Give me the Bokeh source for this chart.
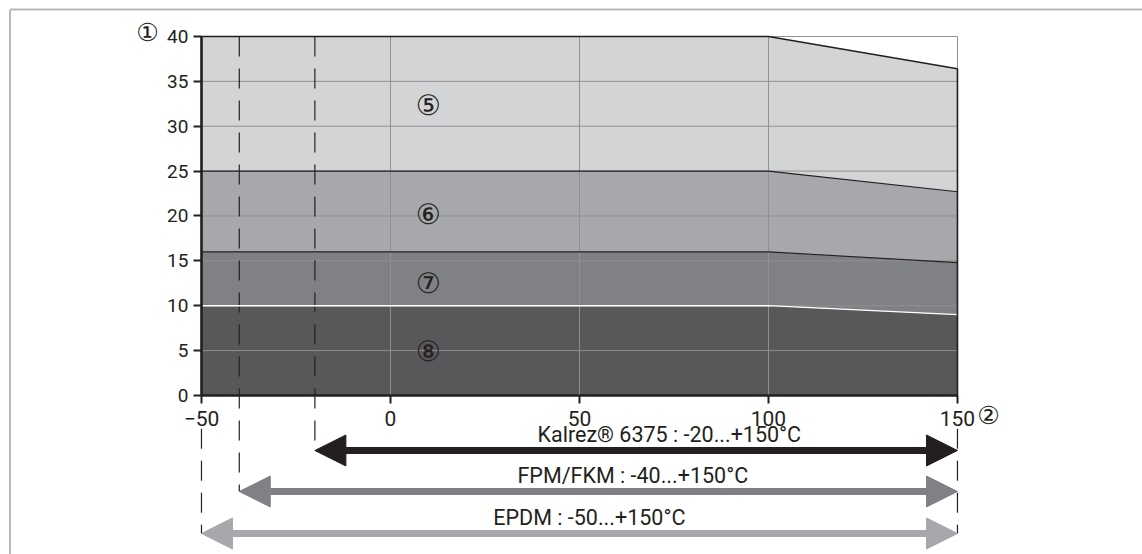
from bokeh.plotting import figure
from bokeh.models import FixedTicker, Arrow, NormalHead, Label
from bokeh.core.properties import value
from bokeh.embed import file_html
from bokeh.resources import INLINE

# ---------------- data ----------------
temp_c = [-50, 100, 150]            # temperature breakpoints (°C)
limit_8 = [10, 10, 9.0]             # upper pressure limit of zone 8
limit_7 = [16, 16, 14.8]            # zone 7
limit_6 = [25, 25, 22.7]            # zone 6
limit_5 = [40, 40, 36.4]            # zone 5
zone_marks = ["⑤", "⑥", "⑦", "⑧"]
x_ticks = [-50, 0, 50, 100, 150]
y_ticks = [0, 5, 10, 15, 20, 25, 30, 35, 40]

materials = ["Kalrez® 6375", "FPM/FKM", "EPDM"]
t_min = [-20, -40, -50]
t_max = [150, 150, 150]

# ---------------- styles ----------------
DARK = "#231f20"
zone_colors = ["#d3d4d6", "#a7a8ab", "#808184", "#58585a"]
arrow_colors = ["#231f20", "#808184", "#a7a8ab"]
GRID = "#909093"
FONT = "Roboto"

W, H = 1142, 554
x_start, x_end = -103.17, 198.95
y_start, y_end = -17.72, 44.01
px_x = W / (x_end - x_start)
px_y = H / (y_end - y_start)

p = figure(width=W, height=H, x_range=(x_start, x_end), y_range=(y_start, y_end),
           output_backend="svg", toolbar_location=None, min_border=0,
           background_fill_color="white", border_fill_color="white")
p.outline_line_color = None
p.xgrid.visible = False
p.ygrid.visible = False

x0, x1 = x_ticks[0], x_ticks[-1]
y0, y1 = y_ticks[0], y_ticks[-1]

# outer frame (top and left edges)
fx, fy = x_start + 9.5 / px_x, y_end - 9.0 / px_y
p.segment(x0=[fx, fx], y0=[fy, fy], x1=[x_end + 10, fx], y1=[fy, y_start - 10],
          line_color="#b8b8b8", line_width=2)

# zones
zero = [0] * len(temp_c)
bands = [(limit_6, limit_5), (limit_7, limit_6), (limit_8, limit_7), (zero, limit_8)]
for (lo, hi), c in zip(bands, zone_colors):
    p.varea(x=temp_c, y1=lo, y2=hi, fill_color=c)

# grid (limited to the chart area)
p.segment(x0=x_ticks, y0=[y0] * len(x_ticks), x1=x_ticks, y1=[y1] * len(x_ticks),
          line_color=GRID, line_width=1)
p.segment(x0=[x0] * len(y_ticks), y0=y_ticks, x1=[x1] * len(y_ticks), y1=y_ticks,
          line_color=GRID, line_width=1)

# dashed limit lines
arrow_y = [-6.13, -10.7, -15.38]
for lo, ay in zip(t_min, arrow_y):
    if lo > x0:
        p.segment(x0=lo, y0=y1, x1=lo, y1=ay, line_color=DARK, line_width=1.2, line_dash="20 12")
for xv in (t_min[2], t_max[2]):
    p.segment(x0=xv, y0=-3.7, x1=xv, y1=arrow_y[2], line_color=DARK, line_width=1.2, line_dash="20 12")

# zone boundaries
for ys, c, w in [(limit_5, DARK, 1.6), (limit_6, DARK, 1.1), (limit_7, DARK, 1.1), (limit_8, "white", 1.3)]:
    p.line(temp_c, ys, line_color=c, line_width=w)
p.segment(x0=temp_c[-1], y0=0, x1=temp_c[-1], y1=limit_5[-1], line_color=DARK, line_width=1.6)

# axes
p.xaxis.fixed_location = 0
p.yaxis.fixed_location = x0
p.xaxis.ticker = FixedTicker(ticks=x_ticks)
p.yaxis.ticker = FixedTicker(ticks=y_ticks)
p.xaxis.bounds = (x0, x1)
p.yaxis.bounds = (y0, y1)
for ax in (p.xaxis, p.yaxis):
    ax.axis_line_color = DARK
    ax.axis_line_width = 2.6
    ax.major_tick_line_color = DARK
    ax.major_tick_line_width = 2
    ax.major_tick_out = 8
    ax.major_tick_in = 0
    ax.minor_tick_line_color = None
    ax.major_label_text_font = FONT
    ax.major_label_text_color = DARK
p.xaxis.major_label_text_font_size = "21px"
p.yaxis.major_label_text_font_size = "19px"
p.xaxis.major_label_standoff = 8
p.yaxis.major_label_standoff = 5

# zone marks
p.text(x=[10] * 4, y=[32.3, 20.2, 12.5, 4.9], text=zone_marks,
       text_font=value("DejaVu Sans"), text_font_size="28px", text_color=DARK,
       text_align="center", text_baseline="middle")

p.add_layout(Label(x=-64.3, y=40.45, text="①", text_font="DejaVu Sans", text_font_size="25px",
                   text_color=DARK, text_align="center", text_baseline="middle"))
p.add_layout(Label(x=158.2, y=-2.23, text="②", text_font="DejaVu Sans", text_font_size="25px",
                   text_color=DARK, text_align="center", text_baseline="middle"))

# material arrows
for lo, hi, ay, c in zip(t_min, t_max, arrow_y, arrow_colors):
    p.add_layout(Arrow(start=NormalHead(size=31, fill_color=c, line_color=c),
                       end=NormalHead(size=31, fill_color=c, line_color=c),
                       x_start=lo, y_start=ay, x_end=hi, y_end=ay,
                       line_color=c, line_width=7))

labels = [f"{m} : {lo}...+{hi}°C" for m, lo, hi in zip(materials, t_min, t_max)]
p.text(x=[38.9, 33.6, 27.2], y=[ay + 16.0 / px_y for ay in arrow_y], text=labels,
       text_font=value(FONT), text_font_size="21.5px", text_color=DARK,
       text_align="left", text_baseline="middle")

open("out.html", "w").write(file_html(p, INLINE))
